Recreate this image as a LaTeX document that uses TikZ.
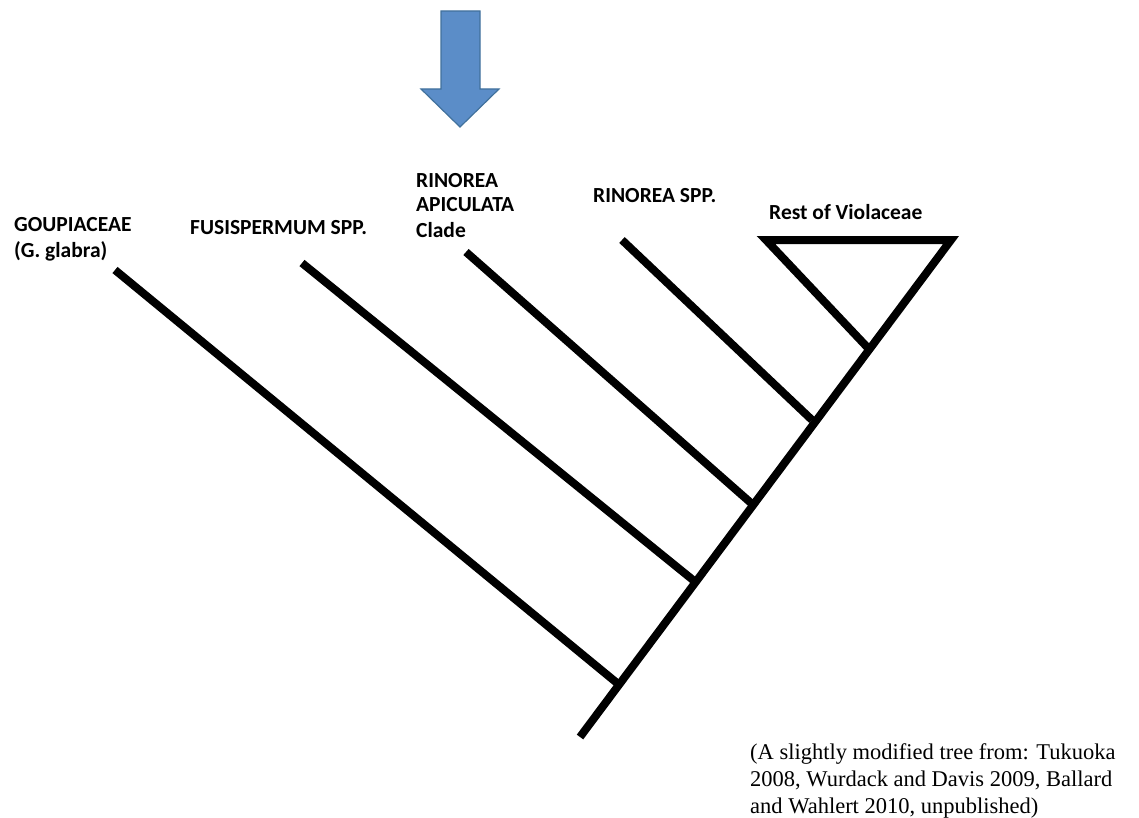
\documentclass[tikz,border=0pt]{standalone}
\usepackage{fontspec}
\setmainfont{Carlito}
\newfontfamily\notefont{Liberation Serif}
\definecolor{arrowfill}{HTML}{5B8DC8}
\definecolor{arrowline}{HTML}{41719C}
\begin{document}
\begin{tikzpicture}[x=1pt,y=-1pt,
  branch/.style={line width=8pt,line cap=butt,line join=miter},
  taxon/.style={font=\fontsize{21.5}{25}\selectfont\bfseries,anchor=base west,inner sep=0pt,align=left},
  note/.style={font=\notefont\fontsize{22.5}{27}\selectfont,anchor=base west,inner sep=0pt,align=left}]
\useasboundingbox (0,0) rectangle (1139,818);
% tree coordinates
\coordinate (root) at (580,737);
\coordinate (n1) at (617,683);
\coordinate (n2) at (693,580);
\coordinate (n3) at (751,503);
\coordinate (n4) at (812,420);
\coordinate (n5) at (867,347);
\coordinate (tR) at (951,240);
\coordinate (tL) at (766,240);
\coordinate (t1) at (115,270);
\coordinate (t2) at (302,263);
\coordinate (t3) at (466,252);
\coordinate (t4) at (622,240);
% branches
\draw[branch] (root) -- (tR) -- (tL) -- (n5);
\draw[branch] (t1) -- (n1);
\draw[branch] (t2) -- (n2);
\draw[branch] (t3) -- (n3);
\draw[branch] (t4) -- (n4);
% arrow
\draw[arrowline,fill=arrowfill,line width=1.2pt,line join=miter]
  (441,11) -- (480,11) -- (480,89) -- (499,89) -- (460,127) -- (421,89) -- (441,89) -- cycle;
% labels (base = baseline of last line)
\node[taxon] (lab1) at (14,257) {GOUPIACEAE\\(G. glabra)};
\node[taxon] (lab2) at (190,234) {FUSISPERMUM SPP.};
\node[taxon] (lab3) at (416,237) {RINOREA\\APICULATA\\Clade};
\node[taxon] (lab4) at (593,203) {RINOREA SPP.};
\node[taxon] (lab5) at (769,219) {Rest of Violaceae};
\node[note] (src) at (750,813) {(A slightly modified tree from: Tukuoka\\2008, Wurdack and Davis 2009, Ballard\\and Wahlert 2010, unpublished)};
\end{tikzpicture}
\end{document}
